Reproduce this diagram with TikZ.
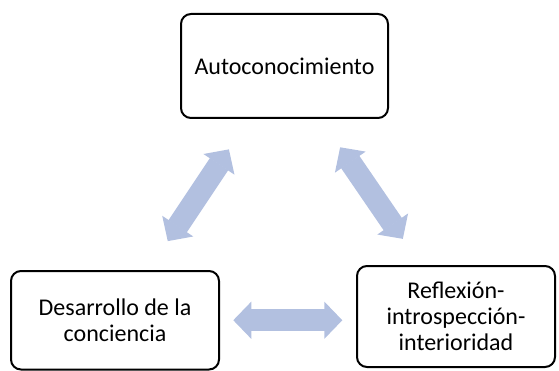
\documentclass[tikz,border=0pt]{standalone}
\usepackage{fontspec}
\setmainfont{Carlito}
\usetikzlibrary{arrows.meta}
\definecolor{arrowblue}{RGB}{178,192,224}
\tikzset{
  box/.style={draw, line width=2pt, rounded corners=10pt, align=center,
    inner sep=0pt, font=\fontsize{24}{26}\selectfont},
  fat/.style={arrowblue, line width=22pt,
    {Triangle[width=37pt,length=18pt,line width=1.5pt]}-{Triangle[width=37pt,length=18pt,line width=1.5pt]}}
}

\begin{document}
\begin{tikzpicture}[x=1pt,y=-1pt]
        \useasboundingbox (0,0) rectangle (559,371);

        \node[box,minimum width=207pt,minimum height=104pt] (auto) at (284.5,66) {Autoconocimiento};
        \node[box,minimum width=208pt,minimum height=98.5pt] (desa) at (115,320.25) {Desarrollo de la\\conciencia};
        \node[box,minimum width=198pt,minimum height=101pt] (refl) at (456,316.5) {Reflexión-\\introspección-\\interioridad};

        \draw[fat,shorten <=100.2pt,shorten >=95.1pt] (auto.center) -- (desa.center);
        \draw[fat,shorten <=98.5pt,shorten >=94.1pt] (auto.center) -- (refl.center);
        \draw[fat,shorten <=13.3pt,shorten >=13.7pt] (desa.east) -- (desa.east -| refl.west);
      \end{tikzpicture}
\end{document}
